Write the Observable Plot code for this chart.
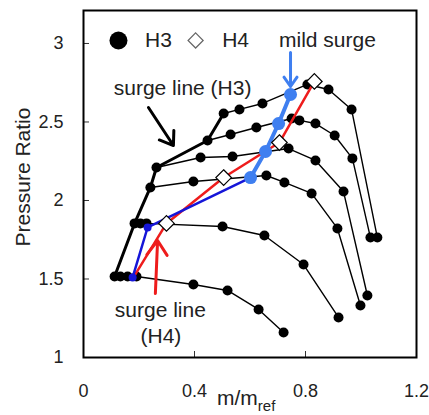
<!DOCTYPE html>
<html><head><meta charset="utf-8">
<script src="https://cdn.jsdelivr.net/npm/d3@7"></script>
<script src="https://cdn.jsdelivr.net/npm/@observablehq/plot@0.6"></script>
<style>body{margin:0;background:#fff}</style>
</head><body><div id="chart"></div>
<script>
// ---- axes ----
const xTicks = [0, 0.4, 0.8, 1.2];
const yTicks = [1, 1.5, 2, 2.5, 3];

// ---- H3 speed lines (m/m_ref, pressure ratio) ----
const speedNames = ["N1", "N2", "N3", "N4", "N5", "N6"];
const massN1 = [0.112, 0.133, 0.159, 0.191, 0.396, 0.519, 0.631, 0.721];
const prN1   = [1.516, 1.516, 1.516, 1.516, 1.465, 1.427, 1.306, 1.159];
const massN2 = [0.184, 0.205, 0.227, 0.501, 0.652, 0.793, 0.919];
const prN2   = [1.854, 1.854, 1.854, 1.834, 1.777, 1.592, 1.255];
const massN3 = [0.241, 0.396, 0.659, 0.724, 0.822, 0.915, 0.998];
const prN3   = [2.083, 2.121, 2.159, 2.115, 2.045, 1.822, 1.331];
const massN4 = [0.263, 0.422, 0.537, 0.739, 0.836, 0.937, 1.023];
const prN4   = [2.210, 2.274, 2.280, 2.331, 2.255, 2.057, 1.395];
const massN5 = [0.447, 0.530, 0.623, 0.750, 0.778, 0.836, 0.905, 0.969, 1.034];
const prN5   = [2.382, 2.420, 2.465, 2.522, 2.510, 2.490, 2.414, 2.268, 1.764];
const massN6 = [0.505, 0.562, 0.645, 0.807, 0.883, 0.966, 1.059];
const prN6   = [2.554, 2.580, 2.618, 2.739, 2.707, 2.580, 1.764];

// ---- H4 surge points (diamonds) and surge line ----
const h4SurgeMass = [0.299, 0.505, 0.706, 0.832];
const h4SurgePR   = [1.854, 2.146, 2.369, 2.758];
const h4LineStartMass = 0.180, h4LineStartPR = 1.510;

// ---- mild surge (blue) ----
const blueMass = [0.177, 0.231, 0.602];
const bluePR   = [1.510, 1.828, 2.146];
const mildMass = [0.602, 0.656, 0.703, 0.746];
const mildPR   = [2.146, 2.312, 2.490, 2.675];

// ---- annotations ----
const annTexts = ["surge line (H3)", "mild surge", "surge line", "(H4)", "H3", "H4"];
const annX     = [0.357, 0.879, 0.277, 0.279, 0.270, 0.548];
const annY     = [2.713, 3.019, 1.299, 1.134, 3.019, 3.019];
const legendDotX = 0.126, legendDiamondX = 0.404, legendY = 3.019;
const arrowColors = ["black", "#3f7ff0", "#ee1c1c"];
const arrowX1 = [0.234, 0.746, 0.259];
const arrowY1 = [2.592, 2.943, 1.408];
const arrowX2 = [0.324, 0.746, 0.267];
const arrowY2 = [2.350, 2.726, 1.745];

// ---- build tables ----
const massAll = [massN1, massN2, massN3, massN4, massN5, massN6];
const prAll = [prN1, prN2, prN3, prN4, prN5, prN6];
const speedRows = speedNames.flatMap((s, i) => massAll[i].map((m, j) => ({speed: s, m, pr: prAll[i][j]})));
const surgeH3 = speedNames.map((s, i) => ({m: massAll[i][0], pr: prAll[i][0]}));
const h4Pts = h4SurgeMass.map((m, i) => ({m, pr: h4SurgePR[i]}));
const h4Line = [{m: h4LineStartMass, pr: h4LineStartPR}, ...h4Pts];
const bluePts = blueMass.map((m, i) => ({m, pr: bluePR[i]}));
const mildPts = mildMass.map((m, i) => ({m, pr: mildPR[i]}));
const anns = annTexts.map((t, i) => ({t, x: annX[i], y: annY[i]}));
const arrows = arrowColors.map((c, i) => ({c, x1: arrowX1[i], y1: arrowY1[i], x2: arrowX2[i], y2: arrowY2[i]}));

const W = 429, H = 415, mL = 83, mR = 13, mT = 10, mB = 58;
const plotW = W - mL - mR, plotH = H - mT - mB;

const svg = Plot.plot({
  width: W, height: H,
  marginLeft: mL, marginRight: mR, marginTop: mT, marginBottom: mB,
  style: {fontFamily: "'Liberation Sans', Arial, sans-serif", fontSize: "18px", color: "#222", background: "white"},
  x: {domain: [0, 1.2]},
  y: {domain: [1, 3.21]},
  marks: [
    Plot.axisX(xTicks, {tickSize: 0, tickPadding: 27, fontSize: 18, label: null, tickFormat: d => String(d)}),
    Plot.axisY(yTicks, {tickSize: 0, tickPadding: 20, fontSize: 18, label: null, tickFormat: d => String(d)}),
    Plot.ruleX(xTicks.slice(1, -1), {stroke: "#333", insetTop: plotH - 6}),
    Plot.ruleY(yTicks.slice(1), {stroke: "#333", insetRight: plotW - 6}),
    Plot.line(speedRows, {x: "m", y: "pr", z: "speed", stroke: "black", strokeWidth: 1.4}),
    Plot.dot(speedRows, {x: "m", y: "pr", r: 5, fill: "black"}),
    Plot.line(surgeH3, {x: "m", y: "pr", stroke: "black", strokeWidth: 3}),
    Plot.line(h4Line, {x: "m", y: "pr", stroke: "#ee1c1c", strokeWidth: 2.5}),
    Plot.line(bluePts, {x: "m", y: "pr", stroke: "#1515d8", strokeWidth: 2.5}),
    Plot.line(mildPts, {x: "m", y: "pr", stroke: "#3f7ff0", strokeWidth: 4}),
    Plot.dot(bluePts.slice(0, 2), {x: "m", y: "pr", r: 4, fill: "#1515d8"}),
    Plot.dot(mildPts, {x: "m", y: "pr", r: 6.5, fill: "#3f7ff0"}),
    Plot.dot(h4Pts, {x: "m", y: "pr", r: 7, symbol: "diamond2", fill: "white", stroke: "black", strokeWidth: 1.2}),
    Plot.dot([legendDotX], {x: d => d, y: () => legendY, r: 9, fill: "black"}),
    Plot.dot([legendDiamondX], {x: d => d, y: () => legendY, r: 6.8, symbol: "diamond2", fill: "white", stroke: "#666", strokeWidth: 1.2}),
    Plot.text(anns, {x: "x", y: "y", text: "t", fontSize: 21, fill: "#222", textAnchor: "middle"}),
    Plot.arrow(arrows, {x1: "x1", y1: "y1", x2: "x2", y2: "y2", stroke: "c", strokeWidth: 3, headLength: 11, headAngle: 70}),
    Plot.frame({stroke: "black", strokeWidth: 2})
  ]
});

const s = d3.select(svg);
s.append("text")
  .attr("transform", "translate(22,177) rotate(-90)")
  .attr("text-anchor", "middle").attr("dominant-baseline", "central")
  .attr("font-size", 21).attr("fill", "#222").text("Pressure Ratio");
const xl = s.append("text").attr("x", 217).attr("y", 405)
  .attr("text-anchor", "start").attr("font-size", 21).attr("fill", "#222");
xl.append("tspan").text("m/m");
xl.append("tspan").attr("dy", 6).attr("font-size", 15).text("ref");

document.getElementById("chart").appendChild(svg);
</script>
</body></html>
